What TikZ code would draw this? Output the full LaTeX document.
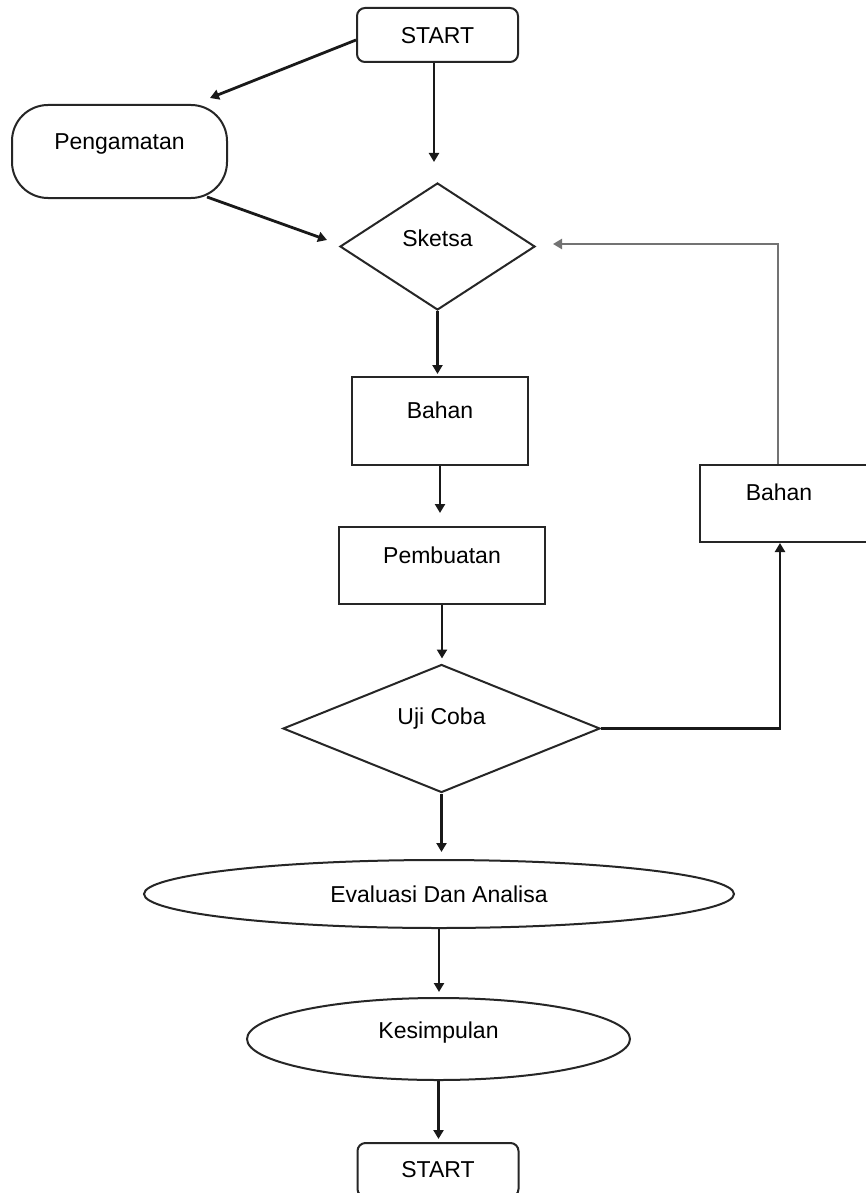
\documentclass[tikz,border=0pt]{standalone}
\usepackage{fontspec}
\setmainfont{Liberation Sans}
\usetikzlibrary{shapes.geometric,arrows.meta,calc}
\begin{document}
\begin{tikzpicture}[x=1pt,y=-1pt,
  shp/.style={draw=black!85, line width=2pt, inner sep=0pt},
  rbox/.style={shp, rectangle},
  dia/.style={shp, diamond},
  ell/.style={shp, ellipse},
  conn/.style={draw=black!90, line width=2.8pt, -{Triangle[length=9pt,width=10pt]}},
  every label/.style={font=\fontsize{23}{27}\selectfont, inner sep=0pt}]
\useasboundingbox (0,0) rectangle (865,1193);
\fill[white] (0,0) rectangle (865,1193);

% nodes
\node[rbox, rounded corners=8pt, minimum width=161pt, minimum height=54pt,
      label={[yshift=-1pt]center:START}] (s1) at (437.5,35) {};
\node[rbox, rounded corners=36pt, minimum width=215pt, minimum height=93pt,
      label={[yshift=8pt]center:Pengamatan}] (p) at (119.5,151.5) {};
\node[dia, minimum width=195pt, minimum height=127pt,
      label={[yshift=8pt]center:Sketsa}] (sk) at (437.5,246.5) {};
\node[rbox, minimum width=176pt, minimum height=88pt,
      label={[yshift=11pt]center:Bahan}] (b1) at (440,421) {};
\node[rbox, minimum width=206pt, minimum height=77pt,
      label={[yshift=10pt]center:Pembuatan}] (pb) at (442,565.5) {};
\node[dia, minimum width=317pt, minimum height=128pt,
      label={[yshift=10pt]center:Uji Coba}] (u) at (441.5,728.5) {};
\node[rbox, minimum width=170pt, minimum height=77pt,
      label={[xshift=-6pt,yshift=11pt]center:Bahan}] (b2) at (785,503.5) {};
\node[ell, minimum width=590pt, minimum height=68pt,
      label={center:Evaluasi Dan Analisa}] (ev) at (439,894) {};
\node[ell, minimum width=383pt, minimum height=82pt,
      label={[yshift=6pt]center:Kesimpulan}] (ks) at (438.5,1039) {};
\node[rbox, rounded corners=8pt, minimum width=161pt, minimum height=54pt,
      label={center:START}] (s2) at (438,1170) {};

% free connector ends
\coordinate (aP) at (210,98);
\coordinate (aSk) at (434,162);
\coordinate (pOut) at (207,197);
\coordinate (aSk2) at (327,240);
\coordinate (loopEnd) at (553,244);

% connectors
\draw[conn] ($(s1.west)+(0,5)$) -- (aP);
\draw[conn] (s1.south -| aSk) -- (aSk);
\draw[conn] (pOut) -- (aSk2);
\draw[conn, shorten >=2pt] (sk.south) -- (sk.south |- b1.north);
\draw[conn, shorten >=13pt] (b1.south) -- (b1.south |- pb.north);
\draw[conn, shorten >=5pt] (pb.south) -- (pb.south |- u.north);
\draw[conn, shorten >=7pt] (u.south) -- (u.south |- ev.north);
\draw[conn, shorten >=5pt] (ev.south) -- (ev.south |- ks.north);
\draw[conn, shorten >=3pt] (ks.south) -- (ks.south |- s2.north);
\draw[conn] (u.east) -| ($(b2.south)+(-5,0)$);
\draw[conn, draw=black!55] ($(b2.north)+(-7,0)$) |- (loopEnd);
\end{tikzpicture}
\end{document}
